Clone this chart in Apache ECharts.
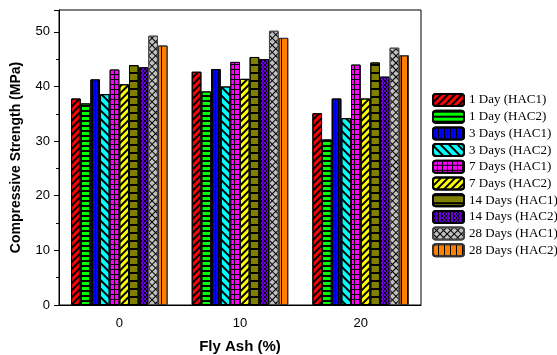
<!DOCTYPE html>
<html><head><meta charset="utf-8">
<script src="https://cdn.jsdelivr.net/npm/echarts@6/dist/echarts.min.js"></script>
<style>html,body{margin:0;padding:0;background:#fff}#c{width:557px;height:355px}</style>
</head><body><div id="c"></div>
<script>
var categories = ['0', '10', '20'];
var seriesNames = ['1 Day (HAC1)', '1 Day (HAC2)', '3 Days (HAC1)', '3 Days (HAC2)', '7 Days (HAC1)', '7 Days (HAC2)', '14 Days (HAC1)', '14 Days (HAC2)', '28 Days (HAC1)', '28 Days (HAC2)'];
var day1_hac1 = [37.8, 42.7, 35.1];
var day1_hac2 = [36.9, 39.1, 30.3];
var day3_hac1 = [41.3, 43.2, 37.8];
var day3_hac2 = [38.6, 40.0, 34.2];
var day7_hac1 = [43.1, 44.5, 44.0];
var day7_hac2 = [40.4, 41.4, 37.8];
var day14_hac1 = [43.9, 45.4, 44.4];
var day14_hac2 = [43.5, 45.0, 41.8];
var day28_hac1 = [49.3, 50.2, 47.1];
var day28_hac2 = [47.5, 48.9, 45.7];
var values = [day1_hac1, day1_hac2, day3_hac1, day3_hac2, day7_hac1, day7_hac2, day14_hac1, day14_hac2, day28_hac1, day28_hac2];

var styles = [
  {color: '#ff0000', border: '#000', decal: {symbol: 'rect', color: '#000', dashArrayX: [1, 0], dashArrayY: [1.2, 2.3], rotation: -Math.PI / 4, symbolSize: 1}},
  {color: '#00ff00', border: '#000', decal: {symbol: 'rect', color: '#000', dashArrayX: [1, 0], dashArrayY: [1.3, 2.7], rotation: 0, symbolSize: 1}},
  {color: '#0000ff', border: '#000', decal: {symbol: 'rect', color: '#000', dashArrayX: [1, 0], dashArrayY: [1, 2], rotation: Math.PI / 2, symbolSize: 1}},
  {color: '#00ffff', border: '#000', decal: {symbol: 'rect', color: '#000', dashArrayX: [1, 0], dashArrayY: [1.3, 4], rotation: Math.PI / 4, symbolSize: 1}},
  {color: '#000000', border: '#000', decal: {symbol: 'rect', color: '#ff00ff', dashArrayX: [4, 1], dashArrayY: [4, 1], rotation: 0, symbolSize: 1}},
  {color: '#ffff00', border: '#000', decal: {symbol: 'rect', color: '#000', dashArrayX: [1, 0], dashArrayY: [1.3, 2.5], rotation: -Math.PI / 4, symbolSize: 1}},
  {color: '#808000', border: '#000', decal: {symbol: 'rect', color: '#000', dashArrayX: [1, 0], dashArrayY: [1.2, 6], rotation: 0, symbolSize: 1}},
  {color: '#000000', border: '#000', decal: {symbol: 'rect', color: '#6a00d8', dashArrayX: [[2, 1], [0, 1.5, 1.5, 0]], dashArrayY: [1.5, 0], rotation: 0, symbolSize: 1}},
  {color: '#000000', border: '#444', decal: {symbol: 'rect', color: '#c0c0c0', dashArrayX: [3.5, 1], dashArrayY: [3.5, 1], rotation: Math.PI / 4, symbolSize: 1}},
  {color: '#ff8000', border: '#333', decal: {symbol: 'rect', color: '#000', dashArrayX: [1, 0], dashArrayY: [1, 5], rotation: Math.PI / 2, symbolSize: 1}}
];

var series = seriesNames.map(function (name, i) {
  return {
    name: name,
    type: 'bar',
    data: values[i],
    barGap: '0%',
    barCategoryGap: '20%',
    itemStyle: {color: styles[i].color, borderColor: styles[i].border, borderWidth: 1, decal: styles[i].decal}
  };
});

var chart = echarts.init(document.getElementById('c'), null, {renderer: 'canvas'});
chart.setOption({
  animation: false,
  backgroundColor: '#fff',
  grid: {left: 59, right: 136, top: 10, bottom: 50, outerBoundsMode: 'none', containLabel: false, show: true, borderColor: '#000', borderWidth: 1, backgroundColor: 'transparent'},
  legend: {
    orient: 'vertical', left: 432, top: 93, padding: 0, itemWidth: 31, itemHeight: 12, itemGap: 2.7,
    textStyle: {fontFamily: 'Liberation Serif', fontSize: 13, color: '#000', overflow: 'none'},
    data: seriesNames
  },
  xAxis: [{
    type: 'category', data: categories,
    axisLine: {lineStyle: {color: '#000'}},
    axisTick: {alignWithLabel: true, length: 5, lineStyle: {color: '#000'}},
    axisLabel: {fontFamily: 'Liberation Sans', fontSize: 13, color: '#000', margin: 12},
    name: 'Fly Ash (%)', nameLocation: 'middle', nameGap: 34,
    nameTextStyle: {fontFamily: 'Liberation Sans', fontWeight: 'bold', fontSize: 15, color: '#000'}
  }, {
    type: 'category', data: categories, position: 'bottom',
    axisLine: {show: false},
    axisTick: {alignWithLabel: false, length: 3, lineStyle: {color: '#000'}},
    axisLabel: {show: false}
  }],
  yAxis: {
    type: 'value', min: 0, max: 54, interval: 10,
    axisLine: {show: true, lineStyle: {color: '#000'}},
    axisTick: {show: true, length: 5, lineStyle: {color: '#000'}},
    minorTick: {show: true, splitNumber: 2, length: 3, lineStyle: {color: '#000'}},
    splitLine: {show: false},
    axisLabel: {fontFamily: 'Liberation Sans', fontSize: 13, color: '#000', margin: 9, showMaxLabel: false},
    name: 'Compressive Strength (MPa)', nameLocation: 'middle', nameGap: 36,
    nameTextStyle: {fontFamily: 'Liberation Sans', fontWeight: 'bold', fontSize: 14, color: '#000'}
  },
  series: series
});
</script></body></html>
